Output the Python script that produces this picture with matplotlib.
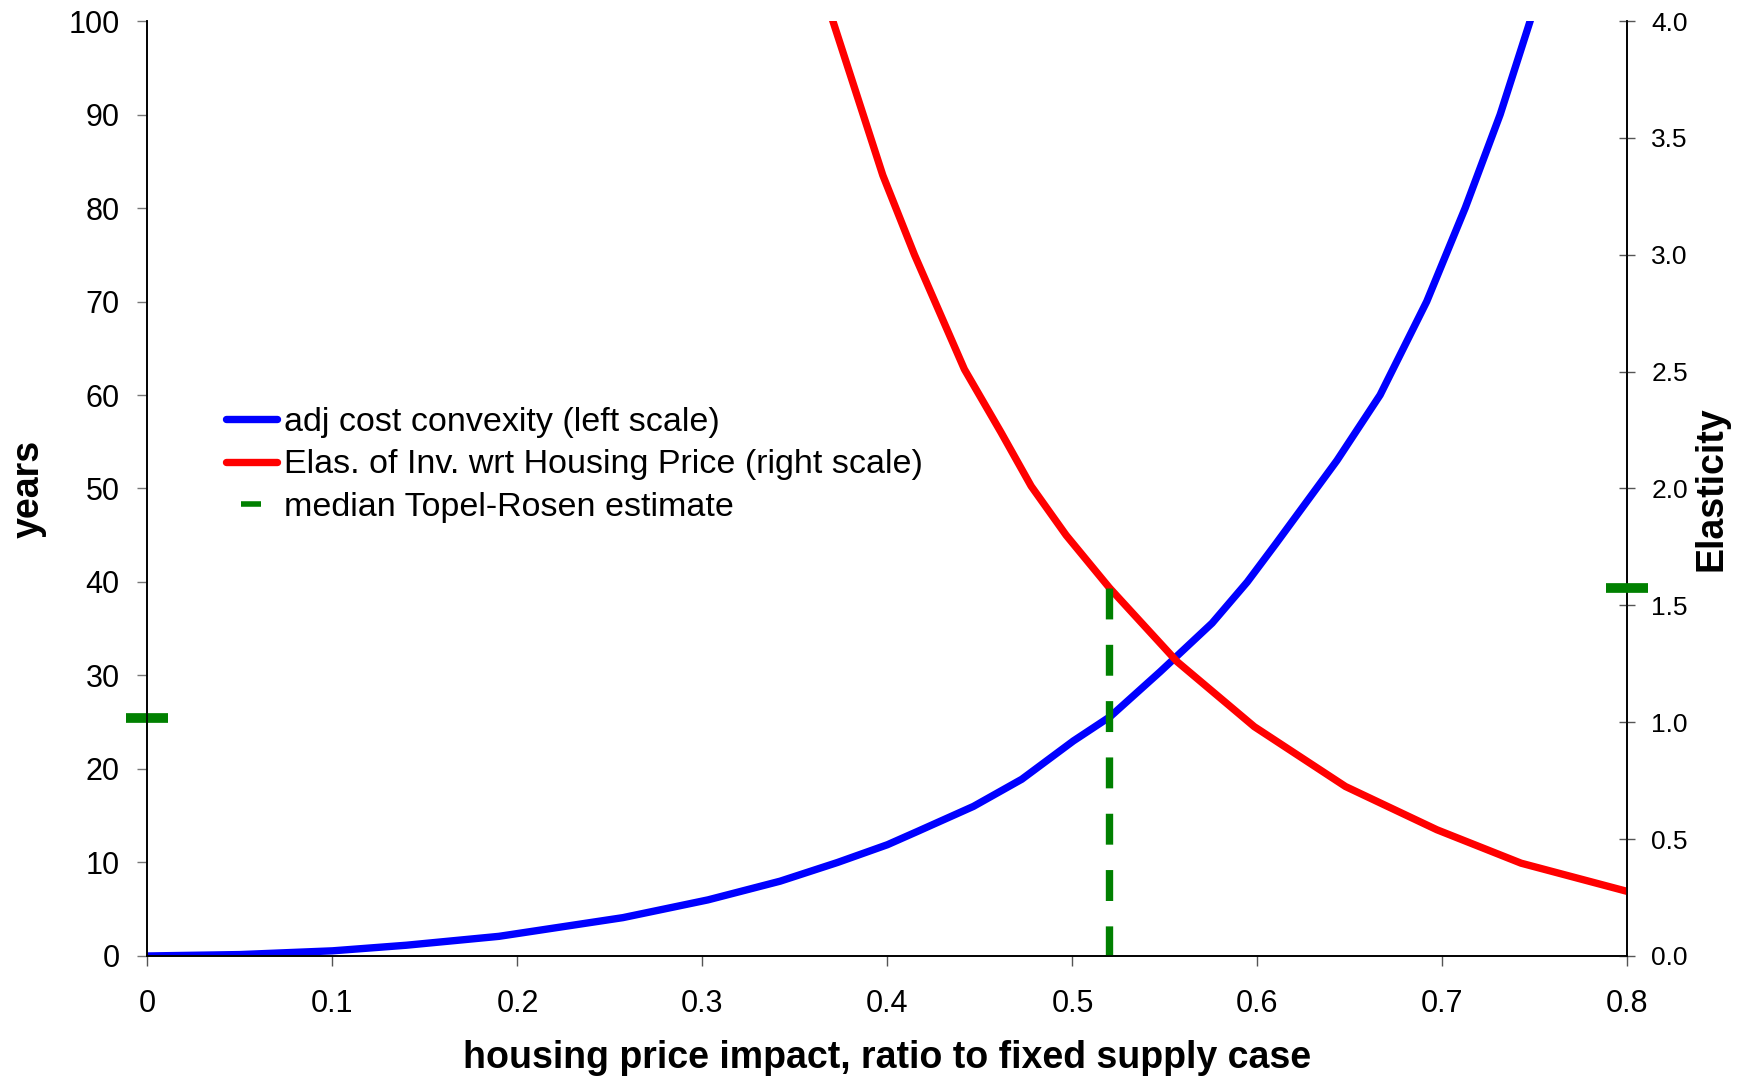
import matplotlib.pyplot as plt
from matplotlib.lines import Line2D

plt.rcParams['font.family'] = ['Liberation Sans', 'DejaVu Sans']

# adj cost convexity (years) vs housing price impact
impact_blue = [0.0, 0.05, 0.10, 0.14, 0.19, 0.257, 0.303, 0.342, 0.373, 0.40, 0.416,
               0.4465, 0.4726, 0.5005, 0.5204, 0.5474, 0.5755, 0.5945, 0.61, 0.643,
               0.6663, 0.6915, 0.7123, 0.7312, 0.7474, 0.763]
years = [0.0, 0.15, 0.55, 1.15, 2.1, 4.1, 6.0, 8.0, 10.0, 11.9, 13.3,
         16.0, 18.9, 23.0, 25.6, 30.4, 35.6, 40.0, 44.1, 53.0,
         60.0, 70.0, 80.0, 90.0, 100.0, 110.0]

# elasticity of investment wrt housing price
impact_red = [0.35, 0.3705, 0.3975, 0.4146, 0.4416, 0.4614, 0.4777, 0.4966, 0.52,
              0.5566, 0.5983, 0.6476, 0.697, 0.7425, 0.8]
elasticity = [4.5, 4.0, 3.34, 3.0, 2.51, 2.24, 2.01, 1.80, 1.575,
              1.259, 0.981, 0.725, 0.540, 0.397, 0.276]

# median Topel-Rosen estimate
tr_impact = 0.52
tr_years = 25.5
tr_elasticity = 1.575

xticks = [0, 0.1, 0.2, 0.3, 0.4, 0.5, 0.6, 0.7, 0.8]
xticklabels = ['0', '0.1', '0.2', '0.3', '0.4', '0.5', '0.6', '0.7', '0.8']
left_ticks = [0, 10, 20, 30, 40, 50, 60, 70, 80, 90, 100]
right_ticks = [0.0, 0.5, 1.0, 1.5, 2.0, 2.5, 3.0, 3.5, 4.0]

fig = plt.figure(figsize=(17.49, 10.78), dpi=100)
ax = fig.add_axes([0.0843, 0.1132, 0.8462, 0.8673])
ax2 = ax.twinx()

ax.plot(impact_blue, years, color='#0000ff', lw=5.3, solid_capstyle='round')
ax.plot([0], [tr_years], marker='_', color='#008000', ms=30, mew=7,
        ls='none', clip_on=False, zorder=5)

ax2.plot(impact_red, elasticity, color='#ff0000', lw=5.3, solid_capstyle='round')
# drawn top-down so the dash pattern starts at the red curve
ax2.plot([tr_impact, tr_impact], [tr_elasticity, 0], color='#008000', lw=5.3,
         ls=(0, (4.2, 3.45)))
ax2.plot([0.8], [tr_elasticity], marker='_', color='#008000', ms=30, mew=7,
         ls='none', clip_on=False, zorder=5)

ax.set_xlim(0, 0.8)
ax.set_ylim(0, 100)
ax2.set_ylim(0, 4)

ax.set_xticks(xticks)
ax.set_xticklabels(xticklabels)
ax.set_yticks(left_ticks)
ax2.set_yticks(right_ticks)
ax2.set_yticklabels([f'{v:.1f}' for v in right_ticks])

for a in (ax, ax2):
    a.spines['top'].set_visible(False)
    for s in a.spines.values():
        s.set_linewidth(1.2)

ax.tick_params(axis='x', direction='out', length=7, width=1, color='#555555',
               labelsize=22, pad=17)
ax.tick_params(axis='y', direction='out', length=7, width=1, color='#777777',
               labelsize=22, pad=13)
ax2.tick_params(axis='y', direction='inout', length=11.5, width=1, color='#555555',
                labelsize=19, pad=11.5)

ax.set_xlabel('housing price impact, ratio to fixed supply case',
              fontsize=27, fontweight='bold', labelpad=15)
ax.set_ylabel('years', fontsize=27, fontweight='bold', labelpad=15.5)
ax2.set_ylabel('Elasticity', fontsize=27, fontweight='bold', labelpad=4)

handles = [
    Line2D([], [], color='#0000ff', lw=5.3, solid_capstyle='round'),
    Line2D([], [], color='#ff0000', lw=5.3, solid_capstyle='round'),
    Line2D([], [], color='#008000', marker='_', ms=14, mew=4, ls='none'),
]
labels = ['adj cost convexity (left scale)',
          'Elas. of Inv. wrt Housing Price (right scale)',
          'median Topel-Rosen estimate']
ax2.legend(handles, labels, loc='upper left', bbox_to_anchor=(0.1212, 0.6355),
           bbox_transform=fig.transFigure, frameon=False, fontsize=24.5,
           handlelength=1.5, handletextpad=0.23, labelspacing=0.35,
           borderaxespad=0)

fig.savefig('out.png', dpi=100)
